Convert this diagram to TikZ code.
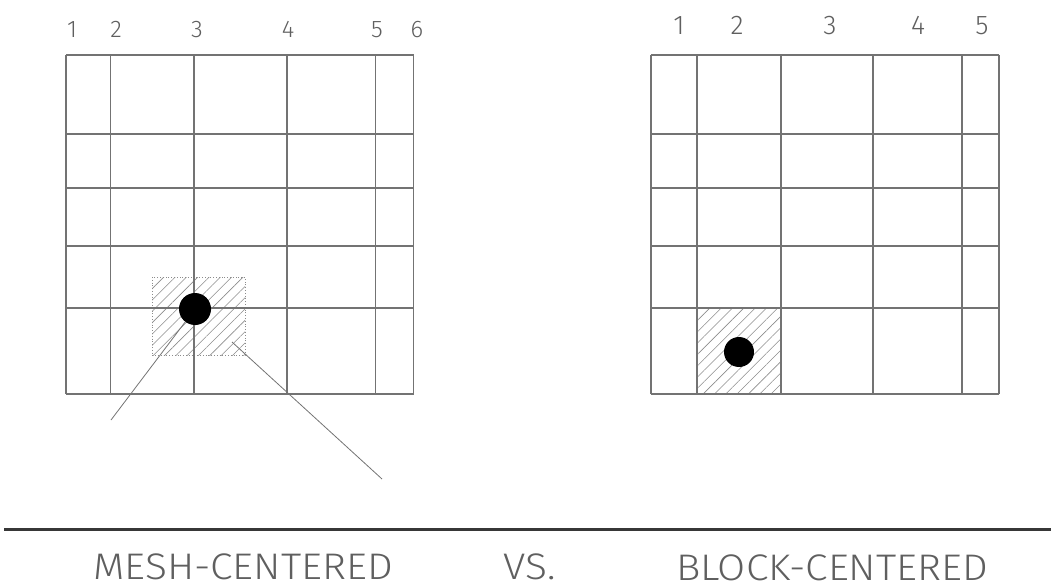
\documentclass[tikz,border=0pt]{standalone}
\usepackage{fontspec}
\newfontfamily\cadfont{Fira Sans}[UprightFont={* Light}]
\usetikzlibrary{patterns.meta}

\definecolor{gridgray}{RGB}{115,115,115}
\definecolor{hatchgray}{RGB}{140,140,140}
\definecolor{txtgray}{RGB}{95,95,95}
\definecolor{rulegray}{RGB}{55,55,55}

\begin{document}
\begin{tikzpicture}[x=1pt,y=-1pt,
    gridline/.style={draw=gridgray, line width=1.1pt},
    hatchbox/.style={pattern={Lines[angle=45,distance=8pt,line width=0.6pt]}, pattern color=hatchgray},
    nodept/.style={circle, fill=black, inner sep=0pt, minimum size=#1},
    pointer/.style={draw=gridgray, line width=0.8pt},
    colnum/.style={anchor=base, inner sep=0pt, text=txtgray, font=\cadfont\fontsize{#1}{#1}\selectfont},
    caption/.style={anchor=base, inner sep=0pt, xscale=1.1, text=txtgray, font=\cadfont\fontsize{37}{37}\selectfont}]
    \useasboundingbox (0,0) rectangle (1051,588);

    % Mesh-centered grid (left)
    \fill[hatchbox] (152,277) rectangle (245,355);
    \draw[hatchgray, dotted, line width=0.8pt] (152,277) rectangle (245,355);
    \foreach \x in {66,110.7,194,287,375.7,413.7}
        \draw[gridline] (\x,55) -- (\x,394);
    \foreach \y in {55,134,188,246,308,394}
        \draw[gridline] (66,\y) -- (413.7,\y);

    % Column numbers on the grid lines
    \foreach \x/\n in {72/1,116/2,197/3,288/4,377/5,417/6}
        \node[colnum=24] (mnum\n) at (\x,38) {\n};

    % Leader lines and the mesh point
    \coordinate (leadA) at (111,420);
    \coordinate (leadBstart) at (232,342);
    \coordinate (leadB) at (382,479);
    \node[nodept=32pt] (meshpt) at (195,309) {};
    \draw[pointer] (meshpt) -- (leadA);
    \draw[pointer] (leadBstart) -- (leadB);

    % Block-centered grid (right)
    \fill[hatchbox] (697,308) rectangle (781,394);
    \foreach \x in {651,697,781,873,962,999}
        \draw[gridline] (\x,55) -- (\x,394);
    \foreach \y in {55,134,188,246,308,394}
        \draw[gridline] (651,\y) -- (999,\y);

    % Column numbers in the blocks
    \foreach \x/\n in {679/1,737/2,830/3,918/4,982/5}
        \node[colnum=27] (bnum\n) at (\x,35) {\n};

    \node[nodept=30pt] (blockpt) at (739,352) {};

    % Rule and captions
    \coordinate (ruleL) at (4,529);
    \coordinate (ruleR) at (1051,529);
    \draw[rulegray, line width=3pt] (ruleL) -- (ruleR);
    \node[caption] (meshcap) at (243,579) {MESH-CENTERED};
    \node[caption] (vscap) at (529.5,579) {VS.};
    \node[caption] (blockcap) at (832,580) {BLOCK-CENTERED};
\end{tikzpicture}
\end{document}
